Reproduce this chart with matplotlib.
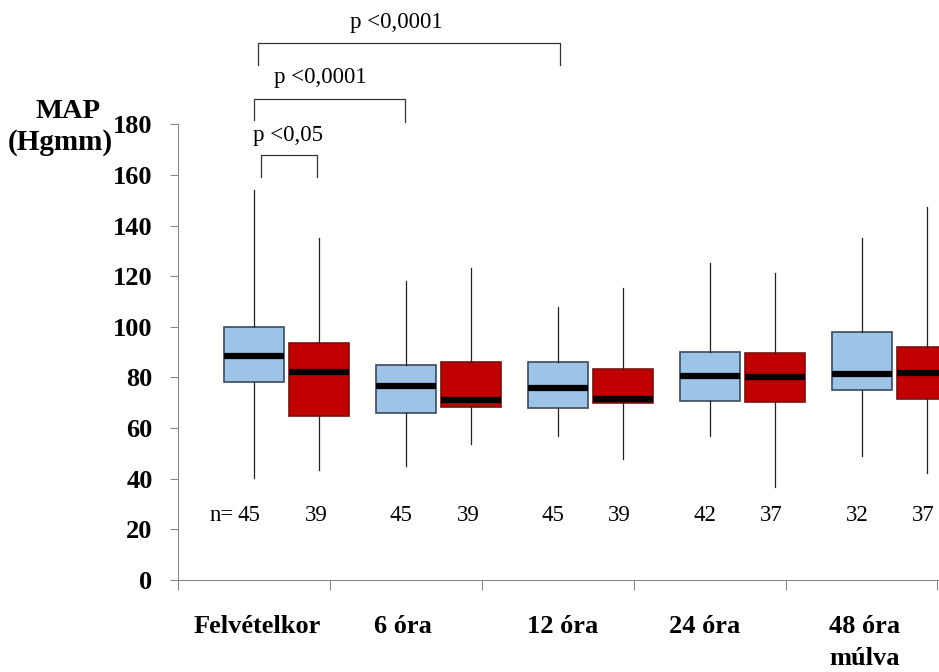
import matplotlib.pyplot as plt

# Box statistics (mmHg) at each time point, two patient groups
categories = ["Felvételkor", "6 óra", "12 óra", "24 óra", "48 óra\nmúlva"]

blue_lo = [40.3, 45.0, 56.9, 56.9, 49.0]
blue_q1 = [78.3, 66.0, 67.8, 70.8, 75.0]
blue_med = [88.6, 76.7, 75.9, 80.6, 81.2]
blue_q3 = [100.0, 85.0, 86.0, 90.0, 97.9]
blue_hi = [154.0, 118.0, 107.9, 125.1, 135.0]

red_lo = [43.5, 53.8, 47.8, 36.6, 42.1]
red_q1 = [64.9, 68.5, 69.8, 70.4, 71.6]
red_med = [82.3, 71.2, 71.5, 80.0, 81.7]
red_q3 = [93.7, 86.2, 83.2, 89.7, 91.9]
red_hi = [134.9, 123.4, 115.4, 121.1, 147.2]

n_blue = [45, 45, 45, 42, 32]
n_red = [39, 39, 39, 37, 37]

# significance brackets: (x_left, x_right, y_top, y_leg_left, y_leg_right, text, text_x, text_y)
brackets = [
    (0.024, 2.013, 212.2, 203.4, 203.4, "p <0,0001", 0.94, 220.4),
    (0.0, 0.991, 189.9, 181.7, 180.9, "p <0,0001", 0.434, 198.3),
    (0.044, 0.416, 167.9, 159.3, 159.3, "p <0,05", 0.224, 175.7),
]

label_x = [0.02, 0.98, 2.03, 2.97, 4.02]

serif = ["Liberation Serif", "DejaVu Serif"]
axis_gray = "#868686"


def make_stats(lo, q1, med, q3, hi):
    return [dict(whislo=a, q1=b, med=c, q3=d, whishi=e, fliers=[])
            for a, b, c, d, e in zip(lo, q1, med, q3, hi)]


fig = plt.figure(figsize=(9.39, 6.72), dpi=100)
ax = fig.add_axes([0.1896, 0.1369, 0.8104, 0.6781])

pos_blue = [i for i in range(len(categories))]
pos_red = [i + 0.428 for i in range(len(categories))]
width = 0.395

for stats, pos, face, edge in [
    (make_stats(blue_lo, blue_q1, blue_med, blue_q3, blue_hi), pos_blue, "#9dc3e6", "#3d4a5c"),
    (make_stats(red_lo, red_q1, red_med, red_q3, red_hi), pos_red, "#c00000", "#7a1010"),
]:
    ax.bxp(stats, positions=pos, widths=width, showcaps=False, patch_artist=True,
           boxprops=dict(facecolor=face, edgecolor=edge, linewidth=1.2),
           medianprops=dict(color="black", linewidth=4.5, solid_capstyle="butt"),
           whiskerprops=dict(color="#222222", linewidth=0.9),
           manage_ticks=False)

ax.set_xlim(-0.5, 4.51)
ax.set_ylim(0, 180)
ax.set_yticks(range(0, 181, 20))
ax.set_xticks([i - 0.5 for i in range(6)])
ax.set_xticklabels([])
for lbl in ax.get_yticklabels():
    lbl.set_fontfamily(serif)
    lbl.set_fontweight("bold")
    lbl.set_fontsize(19)
ax.tick_params(axis="y", length=5.8, width=0.75, color=axis_gray, pad=12.5)
ax.tick_params(axis="x", length=7, width=0.75, color=axis_gray)

for side in ["top", "right"]:
    ax.spines[side].set_visible(False)
for side in ["left", "bottom"]:
    ax.spines[side].set_color(axis_gray)
    ax.spines[side].set_linewidth(0.75)

# category labels under the axis
for x, lab in zip(label_x, categories):
    ax.text(x, -14.0, lab, ha="center", va="top", fontsize=19, fontweight="bold",
            family=serif, linespacing=1.45, clip_on=False)

# sample sizes
for x, n in zip(pos_blue, n_blue):
    ax.text(x - 0.03, 25.5, str(n), ha="center", va="center", fontsize=16.5, family=serif)
for x, n in zip(pos_red, n_red):
    ax.text(x - 0.02, 25.5, str(n), ha="center", va="center", fontsize=16.5, family=serif,
            clip_on=False)
ax.text(pos_blue[0] - 0.13, 25.5, "n=", ha="right", va="center", fontsize=16.5, family=serif)

# p-value brackets above the plot
for x0, x1, ytop, yl, yr, txt, tx, ty in brackets:
    ax.plot([x0, x0, x1, x1], [yl, ytop, ytop, yr], color="#333333", linewidth=0.9,
            clip_on=False)
    ax.text(tx, ty, txt, ha="center", va="center", fontsize=16.5, family=serif)

# y axis title
fig.text(68.5 / 939, 1 - 112 / 672, "MAP", ha="center", va="center", fontsize=20.5,
         fontweight="bold", family=serif)
fig.text(60 / 939, 1 - 143 / 672, "(Hgmm)", ha="center", va="center", fontsize=21,
         fontweight="bold", family=serif)

fig.savefig("out.png", dpi=100)
